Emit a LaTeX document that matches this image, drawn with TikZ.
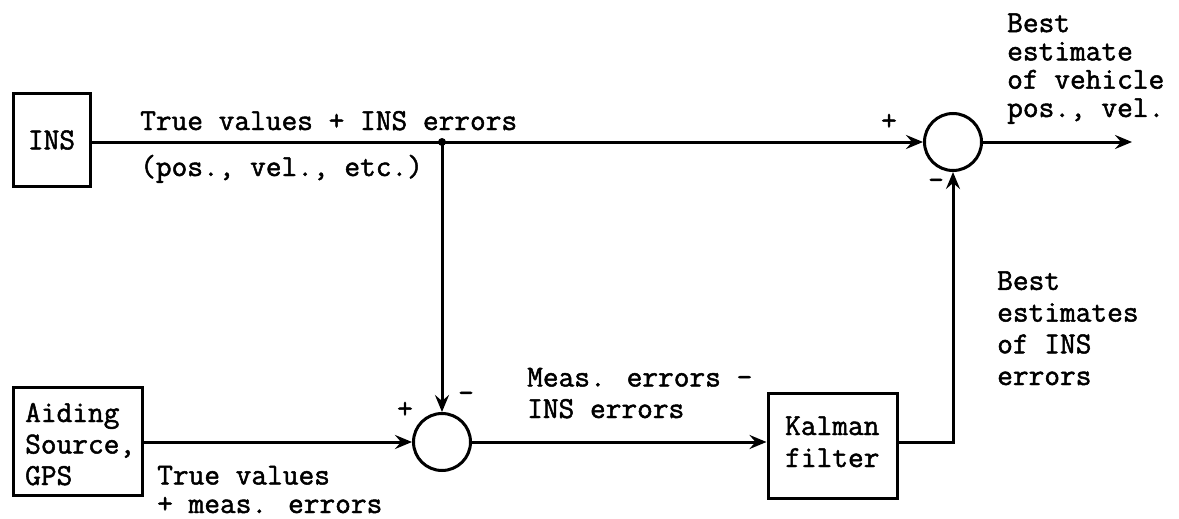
\documentclass[tikz,border=0pt]{standalone}
\usepackage{fontspec}
\newfontfamily\courf[FakeBold=1.6]{Latin Modern Mono}
\usetikzlibrary{arrows.meta}
\begin{document}
\begin{tikzpicture}[x=1pt,y=-1pt,
  lbl/.style={font=\courf\fontsize{30.5}{31.5}\selectfont, inner sep=0pt, align=left, anchor=base west},
  blk/.style={draw, line width=3pt, inner sep=0pt},
  sumc/.style={draw, circle, line width=3pt, minimum size=57pt, inner sep=0pt},
  wire/.style={line width=3pt},
  arr/.style={wire, -{Stealth[length=17pt,width=14pt,inset=6pt]}},
  sgn/.style={font=\courf\fontsize{30.5}{31}\selectfont, inner sep=0pt}
]
\useasboundingbox (0,0) rectangle (1179,519);
% blocks
\node[blk, minimum width=77pt, minimum height=92pt] (ins) at (51.5,140) {};
\node[lbl, anchor=center] (inst) at (51.5,140) {INS};
\node[blk, minimum width=129pt, minimum height=108pt] (aid) at (77.5,441) {};
\node[lbl] (aidt) at (25,485) {Aiding\\Source,\\GPS};
\node[blk, minimum width=129pt, minimum height=105pt] (kal) at (832.5,445.5) {};
\node[lbl, font=\courf\fontsize{30.5}{32}\selectfont] (kalt) at (785,467) {Kalman\\filter};
% summing junctions
\node[sumc] (s1) at (953,142) {};
\node[sumc] (s2) at (442,442) {};
\coordinate (j) at (442,142);
\coordinate (out) at (1132,142);
\coordinate (kc) at (953,442);
% connectors
\draw[wire] (ins.east |- j) -- (j);
\draw[arr] (j) -- (s1.west);
\draw[arr] (j) -- (s2.north);
\fill (j) circle (4pt);
\draw[arr] (s1.east) -- (out);
\draw[arr] (aid.east |- s2) -- (s2.west);
\draw[arr] (s2.east) -- (kal.west |- s2);
\draw[arr] (kal.east |- kc) -- (kc) -- (s1.south);
% signs
\node[sgn] (p1) at (889,122) {+};
\node[sgn] (m1) at (936,184) {-};
\node[sgn] (p2) at (405,410) {+};
\node[sgn] (m2) at (466,397) {-};
% labels
\node[lbl] (l1) at (140,130) {True values + INS errors};
\node[lbl] (l2) at (140,176) {(pos., vel., etc.)};
\node[lbl, font=\courf\fontsize{30.5}{28.3}\selectfont] (l3) at (1007,117) {Best\\estimate\\of vehicle\\pos., vel.};
\node[lbl, font=\courf\fontsize{30.5}{31.7}\selectfont] (l4) at (997,385) {Best\\estimates\\of INS\\errors};
\node[lbl] (l5) at (527,418) {Meas. errors -\\INS errors};
\node[lbl, font=\courf\fontsize{30.5}{28.5}\selectfont] (l6) at (157,513) {True values\\+ meas. errors};
\end{tikzpicture}
\end{document}
